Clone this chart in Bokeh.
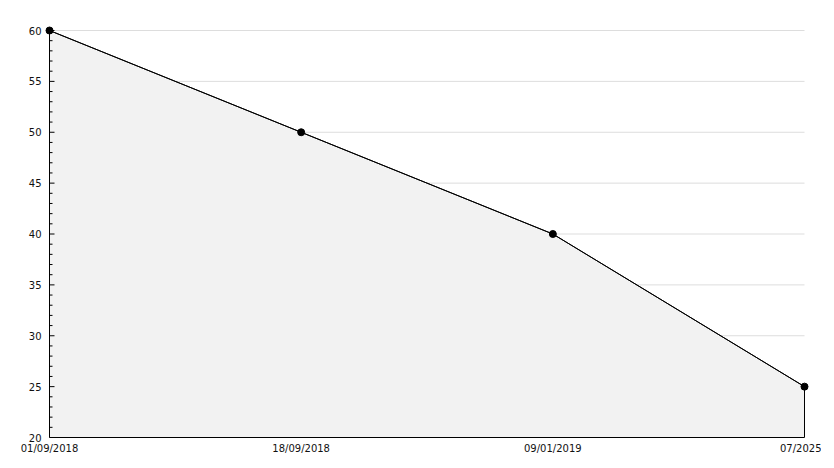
from bokeh.plotting import figure
from bokeh.models import Range1d, FixedTicker
from bokeh.embed import file_html
from bokeh.resources import INLINE

categories = ["01/09/2018", "18/09/2018", "09/01/2019", "07/2025"]
values = [60, 50, 40, 25]
y_min, y_max = 20, 60
y_major = [20, 25, 30, 35, 40, 45, 50, 55, 60]
y_minor = [v for v in range(20, 61) if v not in y_major]

xs = list(range(len(categories)))

# pixel layout
plot_w, plot_h = 755, 407
pad = 5  # room so edge markers are not clipped
px_x = (xs[-1] - xs[0]) / plot_w   # data units per pixel (x)
px_y = (y_max - y_min) / plot_h    # data units per pixel (y)

p = figure(frame_width=plot_w + 2 * pad, frame_height=plot_h + pad,
           output_backend="svg", toolbar_location=None,
           x_range=Range1d(xs[0] - pad * px_x, xs[-1] + pad * px_x),
           y_range=Range1d(y_min, y_max + pad * px_y),
           min_border_left=44, min_border_right=12, min_border_top=25, min_border_bottom=23)
p.outline_line_color = None
p.background_fill_color = "white"
p.border_fill_color = "white"
p.xgrid.grid_line_color = None
p.ygrid.grid_line_color = None

# horizontal grid lines
p.segment(x0=[xs[0]] * len(y_major), x1=[xs[-1]] * len(y_major), y0=y_major, y1=y_major,
          line_color="#dddddd", line_width=1)

# area
p.patch(xs + [xs[-1], xs[0]], values + [y_min, y_min], fill_color="#f2f2f2",
        line_color="black", line_width=1)
p.line(xs, values, line_color="black", line_width=1)

# y axis line and inward ticks at the first category
p.segment(x0=[xs[0]], x1=[xs[0]], y0=[y_min], y1=[y_max], line_color="black", line_width=1)
p.segment(x0=[xs[0]] * len(y_major), x1=[xs[0] + 5 * px_x] * len(y_major),
          y0=y_major, y1=y_major, line_color="black", line_width=1)
p.segment(x0=[xs[0]] * len(y_minor), x1=[xs[0] + 3 * px_x] * len(y_minor),
          y0=y_minor, y1=y_minor, line_color="black", line_width=1)

p.scatter(xs, values, size=7, color="black")

# x axis
p.xaxis.bounds = (xs[0], xs[-1])
p.xaxis.ticker = FixedTicker(ticks=xs)
p.xaxis.major_label_overrides = {i: c for i, c in enumerate(categories)}
p.xaxis.major_tick_line_color = None
p.xaxis.minor_tick_line_color = None
p.xaxis.major_tick_out = 0
p.xaxis.minor_tick_out = 0
p.xaxis.axis_line_color = "black"
p.xaxis.major_label_standoff = 5
p.xaxis.major_label_text_font = "DejaVu Sans"
p.xaxis.major_label_text_font_size = "10px"
p.xaxis.major_label_text_color = "#111111"

# y axis (labels only; line and ticks drawn above)
p.yaxis.ticker = FixedTicker(ticks=y_major)
p.yaxis.axis_line_color = None
p.yaxis.major_tick_line_color = None
p.yaxis.minor_tick_line_color = None
p.yaxis.major_tick_out = 0
p.yaxis.minor_tick_out = 0
p.yaxis.major_label_standoff = 3
p.yaxis.major_label_text_font = "DejaVu Sans"
p.yaxis.major_label_text_font_size = "10px"
p.yaxis.major_label_text_color = "#111111"

open("out.html", "w").write(file_html(p, INLINE))
